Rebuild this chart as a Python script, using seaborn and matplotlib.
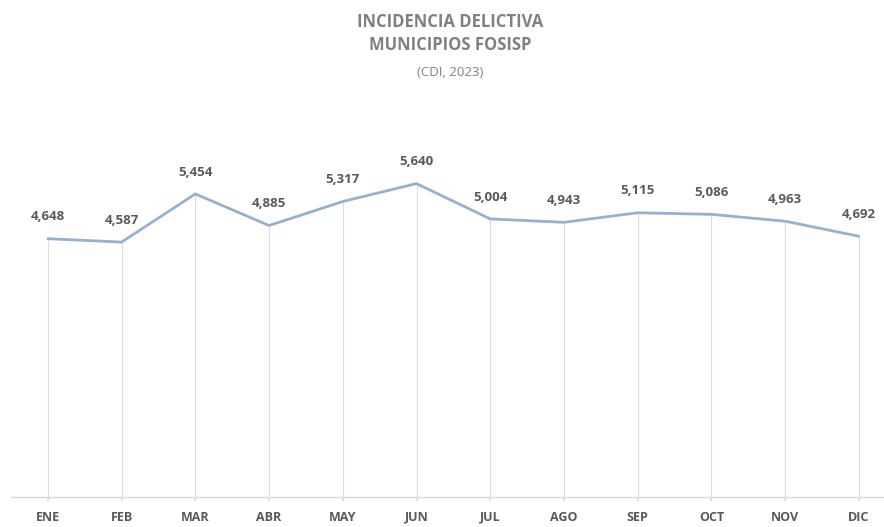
import matplotlib
matplotlib.use("Agg")
import matplotlib.pyplot as plt
import seaborn as sns
import pandas as pd

months = ["ENE", "FEB", "MAR", "ABR", "MAY", "JUN", "JUL", "AGO", "SEP", "OCT", "NOV", "DIC"]
values = [4648, 4587, 5454, 4885, 5317, 5640, 5004, 4943, 5115, 5086, 4963, 4692]
title_lines = ["INCIDENCIA DELICTIVA", "MUNICIPIOS FOSISP"]
subtitle = "(CDI, 2023)"

sns.set_theme(style="white")
plt.rcParams["font.family"] = ["Open Sans", "DejaVu Sans"]

df = pd.DataFrame({"x": range(len(months)), "mes": months, "valor": values})

fig = plt.figure(figsize=(8.84, 5.27), dpi=100)
W, H = 884, 527
left_px, right_px = 11, 884
top_px, bottom_px = 108, 497
ax = fig.add_axes([left_px / W, 1 - bottom_px / H, (right_px - left_px) / W, (bottom_px - top_px) / H])

# drop lines
ax.vlines(df["x"], 0, df["valor"], color="#dcdcdc", linewidth=0.8, zorder=1)
sns.lineplot(data=df, x="x", y="valor", ax=ax, color="#98b0d0", linewidth=2.0, zorder=3)

for xi, v in zip(df["x"], df["valor"]):
    ax.annotate(f"{v:,}", (xi, v), xytext=(0, 11), textcoords="offset points",
                ha="center", va="bottom", fontsize=9.5, fontweight="bold", color="#595959")

spacing = (859 - 48) / 11
ax.set_xlim(-0.5, -0.5 + (right_px - left_px) / spacing)
ax.set_ylim(0, 7000)
ax.set_xticks(df["x"])
ax.set_xticklabels(months, fontsize=9, fontweight="bold", color="#595959")
ax.set_yticks([])
ax.set_xlabel("")
ax.set_ylabel("")
for s in ["top", "right", "left"]:
    ax.spines[s].set_visible(False)
ax.spines["bottom"].set_color("#d9d9d9")
ax.spines["bottom"].set_linewidth(1.0)
ax.tick_params(axis="x", length=3, color="#d9d9d9", pad=7, bottom=True)

fig.text(450 / W, 1 - 22 / H, title_lines[0], ha="center", va="center", fontsize=12,
         fontweight="bold", color="#808080")
fig.text(450 / W, 1 - 45 / H, title_lines[1], ha="center", va="center", fontsize=12,
         fontweight="bold", color="#808080")
fig.text(450 / W, 1 - 72 / H, subtitle, ha="center", va="center", fontsize=9.5,
         color="#808080")

fig.savefig("out.png", dpi=100)
